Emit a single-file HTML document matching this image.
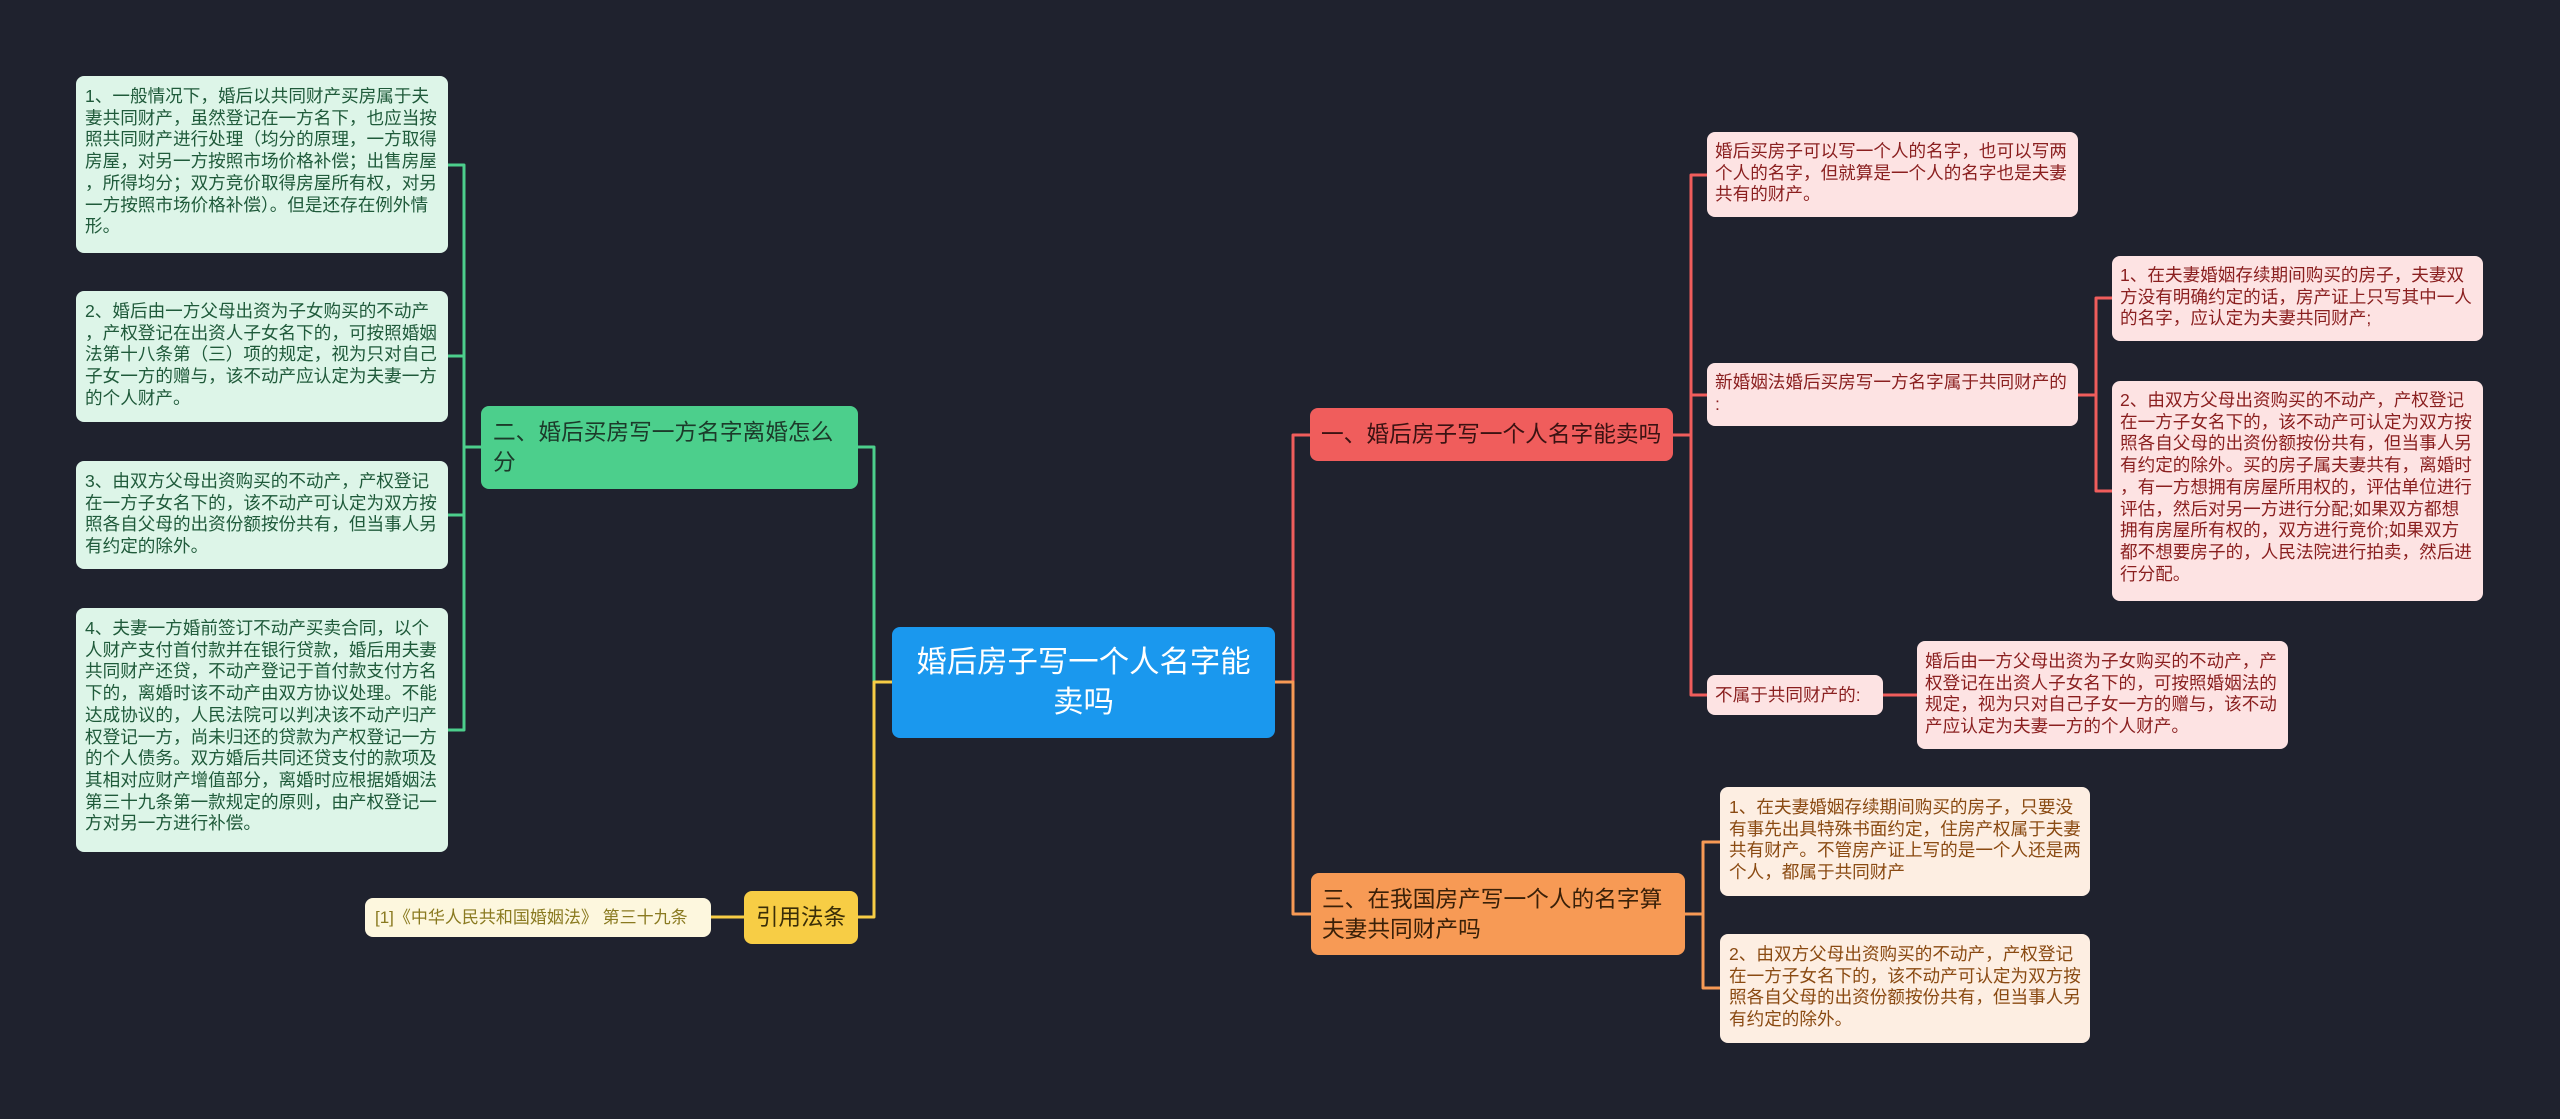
<!DOCTYPE html>
<html><head><meta charset="utf-8">
<style>
body{margin:0;width:2560px;height:1119px;background:#1f222e;overflow:hidden;position:relative;font-family:"Liberation Sans","Noto Sans CJK SC",sans-serif;}
.n{position:absolute;box-sizing:border-box;border-radius:8px;white-space:nowrap;}
.gl{background:#ddf5e8;color:#1f5a3a;font-size:17.6px;line-height:21.7px;padding:10px 9px;}
.pk{background:#fde3e3;color:#8a1f1f;font-size:17.6px;line-height:21.7px;padding:9px 8px;}
.og{background:#fdeee2;color:#8a4a12;font-size:17.6px;line-height:21.7px;padding:10px 9px;}
svg{position:absolute;left:0;top:0;}
</style></head><body>
<svg width="2560" height="1119" fill="none" stroke-width="3" stroke-linejoin="round">
<g stroke="#4ccf8c">
<path d="M448 165 H464 V447 H481"/><path d="M448 356 H464 V447"/><path d="M448 515 H464 V447"/><path d="M448 730 H464 V447"/>
<path d="M892 682 H874 V447 H858"/>
</g>
<g stroke="#f7cd45"><path d="M892 682 H874 V917 H858"/><path d="M744 917 H711"/></g>
<g stroke="#f05d5c">
<path d="M1275 682 H1293 V435 H1310"/>
<path d="M1673 435 H1691 V175 H1707"/><path d="M1691 435 V395 H1707"/><path d="M1691 435 V695 H1707"/>
<path d="M2078 395 H2096 V298 H2112"/><path d="M2096 395 V491 H2112"/>
<path d="M1883 695 H1917"/>
</g>
<g stroke="#f79a55">
<path d="M1275 682 H1293 V914 H1311"/>
<path d="M1685 914 H1703 V842 H1720"/><path d="M1703 914 V988 H1720"/>
</g>
</svg>

<div class="n gl" style="left:76px;top:76px;width:372px;height:177px;">1、一般情况下，婚后以共同财产买房属于夫<br>妻共同财产，虽然登记在一方名下，也应当按<br>照共同财产进行处理（均分的原理，一方取得<br>房屋，对另一方按照市场价格补偿；出售房屋<br>，所得均分；双方竞价取得房屋所有权，对另<br>一方按照市场价格补偿）。但是还存在例外情<br>形。</div>
<div class="n gl" style="left:76px;top:291px;width:372px;height:131px;">2、婚后由一方父母出资为子女购买的不动产<br>，产权登记在出资人子女名下的，可按照婚姻<br>法第十八条第（三）项的规定，视为只对自己<br>子女一方的赠与，该不动产应认定为夫妻一方<br>的个人财产。</div>
<div class="n gl" style="left:76px;top:461px;width:372px;height:108px;">3、由双方父母出资购买的不动产，产权登记<br>在一方子女名下的，该不动产可认定为双方按<br>照各自父母的出资份额按份共有，但当事人另<br>有约定的除外。</div>
<div class="n gl" style="left:76px;top:608px;width:372px;height:244px;">4、夫妻一方婚前签订不动产买卖合同，以个<br>人财产支付首付款并在银行贷款，婚后用夫妻<br>共同财产还贷，不动产登记于首付款支付方名<br>下的，离婚时该不动产由双方协议处理。不能<br>达成协议的，人民法院可以判决该不动产归产<br>权登记一方，尚未归还的贷款为产权登记一方<br>的个人债务。双方婚后共同还贷支付的款项及<br>其相对应财产增值部分，离婚时应根据婚姻法<br>第三十九条第一款规定的原则，由产权登记一<br>方对另一方进行补偿。</div>

<div class="n" style="left:481px;top:406px;width:377px;height:83px;background:#4ccf8c;color:#1c3a2a;font-size:22.7px;line-height:30px;padding:11px 12px;">二、婚后买房写一方名字离婚怎么<br>分</div>
<div class="n" style="left:744px;top:891px;width:114px;height:53px;background:#f7cd45;color:#3a2e08;font-size:22.5px;line-height:53px;text-align:center;">引用法条</div>
<div class="n" style="left:365px;top:898px;width:346px;height:39px;background:#fdf7de;color:#8a7a20;font-size:17px;line-height:39px;padding-left:10px;">[1]《中华人民共和国婚姻法》 第三十九条</div>

<div class="n" style="left:892px;top:627px;width:383px;height:111px;background:#1a98ee;color:#fff;font-size:30.4px;line-height:40px;text-align:center;padding-top:15px;">婚后房子写一个人名字能<br>卖吗</div>

<div class="n" style="left:1310px;top:408px;width:363px;height:53px;background:#f05d5c;color:#3b1212;font-size:22.7px;line-height:53px;padding-left:11px;">一、婚后房子写一个人名字能卖吗</div>
<div class="n" style="left:1311px;top:873px;width:374px;height:82px;background:#f79a55;color:#3a2008;font-size:22.7px;line-height:30px;padding:11px 11px;">三、在我国房产写一个人的名字算<br>夫妻共同财产吗</div>

<div class="n pk" style="left:1707px;top:132px;width:371px;height:85px;">婚后买房子可以写一个人的名字，也可以写两<br>个人的名字，但就算是一个人的名字也是夫妻<br>共有的财产。</div>
<div class="n pk" style="left:1707px;top:363px;width:371px;height:63px;">新婚姻法婚后买房写一方名字属于共同财产的<br>:</div>
<div class="n pk" style="left:2112px;top:256px;width:371px;height:85px;">1、在夫妻婚姻存续期间购买的房子，夫妻双<br>方没有明确约定的话，房产证上只写其中一人<br>的名字，应认定为夫妻共同财产;</div>
<div class="n pk" style="left:2112px;top:381px;width:371px;height:220px;">2、由双方父母出资购买的不动产，产权登记<br>在一方子女名下的，该不动产可认定为双方按<br>照各自父母的出资份额按份共有，但当事人另<br>有约定的除外。买的房子属夫妻共有，离婚时<br>，有一方想拥有房屋所用权的，评估单位进行<br>评估，然后对另一方进行分配;如果双方都想<br>拥有房屋所有权的，双方进行竞价;如果双方<br>都不想要房子的，人民法院进行拍卖，然后进<br>行分配。</div>
<div class="n pk" style="left:1707px;top:675px;width:176px;height:40px;line-height:40px;padding-top:0;padding-bottom:0;">不属于共同财产的:</div>
<div class="n pk" style="left:1917px;top:641px;width:371px;height:108px;padding-top:10px;">婚后由一方父母出资为子女购买的不动产，产<br>权登记在出资人子女名下的，可按照婚姻法的<br>规定，视为只对自己子女一方的赠与，该不动<br>产应认定为夫妻一方的个人财产。</div>

<div class="n og" style="left:1720px;top:787px;width:370px;height:109px;">1、在夫妻婚姻存续期间购买的房子，只要没<br>有事先出具特殊书面约定，住房产权属于夫妻<br>共有财产。不管房产证上写的是一个人还是两<br>个人，都属于共同财产</div>
<div class="n og" style="left:1720px;top:934px;width:370px;height:109px;">2、由双方父母出资购买的不动产，产权登记<br>在一方子女名下的，该不动产可认定为双方按<br>照各自父母的出资份额按份共有，但当事人另<br>有约定的除外。</div>
</body></html>
